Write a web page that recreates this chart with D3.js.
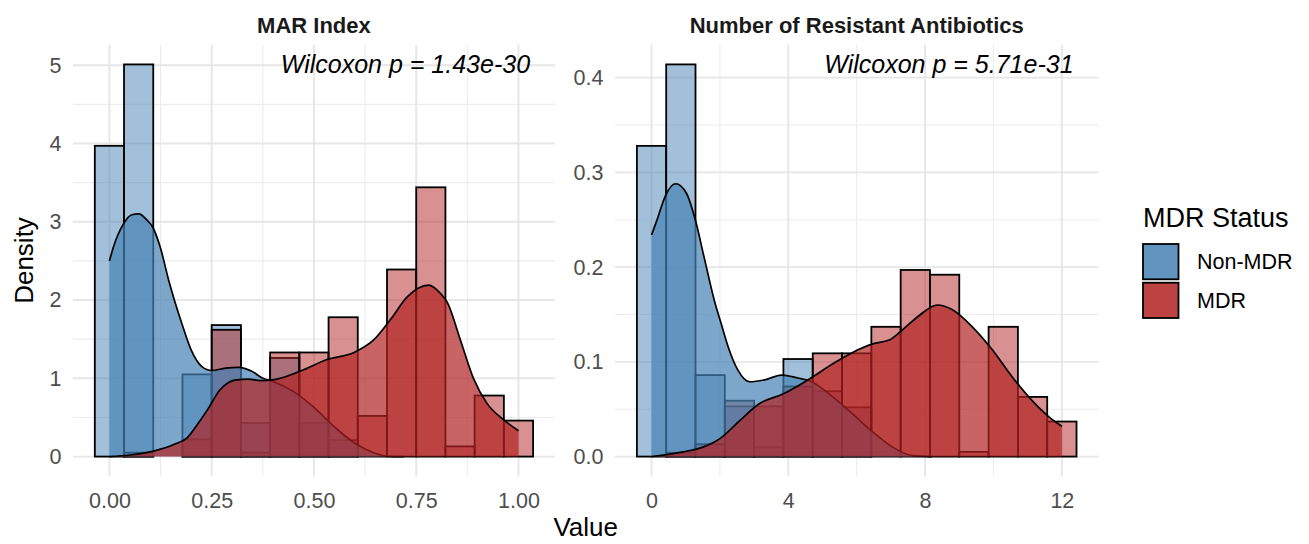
<!DOCTYPE html>
<html>

<head>
    <meta charset="utf-8">
    <style>
        body {
            margin: 0;
            background: #fff;
        }

        svg {
            display: block;
            font-family: "Liberation Sans", Arial, sans-serif;
        }

        .axis .domain,
        .axis .tick line {
            display: none;
        }

        .axis .tick text {
            font-size: 21.5px;
            fill: #4d4d4d;
            font-family: "Liberation Sans", Arial, sans-serif;
        }
    </style>
</head>

<body>
    <svg width="1309" height="544"></svg>

    <script src="https://d3js.org/d3.v7.min.js"></script>

    <script>
        // groups + fill colours
        let groups = ["Non-MDR", "MDR"]
        let groupColors = ["#4682b4", "#b22222"]

        // MAR index histogram, 15 bins centred on 0 .. 1 (density)
        let marNonMdr = [3.97, 5.01, 0, 1.05, 1.68, 0.43, 1.26, 0.43, 0.21, 0, 0, 0, 0, 0, 0]
        let marMdr = [0, 0.05, 0, 0.22, 1.62, 0.05, 1.33, 1.33, 1.78, 0.52, 2.39, 3.44, 0.13, 0.78, 0.46]

        // resistant antibiotics histogram, 15 bins centred on 0 .. 12 (density)
        let resNonMdr = [0.328, 0.414, 0.086, 0.053, 0.010, 0.103, 0.069, 0.052, 0, 0, 0, 0, 0, 0, 0]
        let resMdr = [0, 0.004, 0.013, 0.059, 0.053, 0.074, 0.109, 0.109, 0.137, 0.197, 0.192, 0.005, 0.137, 0.063, 0.037]

        // density curves [value, density]
        let marDensNonMdr = [[0, 2.5], [0.01, 2.68], [0.034, 2.97], [0.055, 3.09], [0.072, 3.1], [0.092, 3.02], [0.106, 2.93],
            [0.124, 2.68], [0.145, 2.25], [0.177, 1.7], [0.2, 1.36], [0.226, 1.15], [0.25, 1.1], [0.284, 1.13],
            [0.316, 1.14], [0.348, 1.09], [0.375, 1.0], [0.4, 0.96], [0.45, 0.83], [0.5, 0.63], [0.55, 0.38],
            [0.6, 0.17], [0.646, 0.05], [0.695, 0.0], [0.72, 0]]
        let marDensMdr = [[0, 0], [0.05, 0.02], [0.108, 0.07], [0.16, 0.16], [0.19, 0.24], [0.215, 0.41], [0.24, 0.6],
            [0.27, 0.85], [0.31, 0.98], [0.34, 0.99], [0.37, 0.97], [0.4, 0.98], [0.466, 1.09], [0.532, 1.24],
            [0.598, 1.33], [0.646, 1.49], [0.687, 1.75], [0.728, 2.04], [0.78, 2.19], [0.81, 2.08], [0.826, 1.97],
            [0.858, 1.49], [0.89, 1.0], [0.923, 0.68], [0.964, 0.47], [1.0, 0.33]]

        let resDensNonMdr = [[0, 0.234], [0.19, 0.253], [0.39, 0.274], [0.705, 0.288], [1.02, 0.278], [1.28, 0.25],
            [1.54, 0.21], [1.85, 0.163], [2.04, 0.14], [2.24, 0.116], [2.53, 0.091], [2.87, 0.079], [3.31, 0.081],
            [3.8, 0.086], [4.28, 0.083], [4.62, 0.08], [5.3, 0.063], [5.88, 0.045], [6.47, 0.026], [7.05, 0.01],
            [7.63, 0.001], [8.2, 0]]
        let resDensMdr = [[0, 0], [0.93, 0.005], [1.5, 0.01], [2.0, 0.019], [2.58, 0.038], [3.16, 0.056], [3.84, 0.066],
            [4.62, 0.082], [5.3, 0.098], [5.88, 0.11], [6.47, 0.119], [6.95, 0.123], [7.25, 0.131], [7.83, 0.149],
            [8.36, 0.16], [8.8, 0.155], [9.38, 0.137], [9.96, 0.113], [10.55, 0.084], [11.13, 0.059], [11.62, 0.042],
            [12.0, 0.032]]

        // ticks
        let marXTicks = [0, 0.25, 0.5, 0.75, 1]
        let marYTicks = [0, 1, 2, 3, 4, 5]
        let resXTicks = [0, 4, 8, 12]
        let resYTicks = [0, 0.1, 0.2, 0.3, 0.4]

        let panelTitles = ["MAR Index", "Number of Resistant Antibiotics"]
        let pValues = ["1.43e-30", "5.71e-31"]

        let svg = d3.select("svg")
        let panelTop = 44.8, panelBottom = 476.2

        function drawPanel(opt) {
            let n = opt.nonMdr.length
            let bw = (opt.range[1] - opt.range[0]) / (n - 1)
            let lo = opt.range[0] - bw / 2
            let hi = opt.range[1] + bw / 2
            let padX = (hi - lo) * 0.05

            let x = d3.scaleLinear()
                .domain([lo - padX, hi + padX])
                .range([opt.left, opt.right])

            let ymax = d3.max([...opt.nonMdr, ...opt.mdr, ...opt.densNon.map(d => d[1]), ...opt.densMdr.map(d => d[1])])
            let y = d3.scaleLinear()
                .domain([-ymax * 0.05, ymax * 1.05])
                .range([panelBottom, panelTop])

            let g = svg.append("g")

            // grid (minor then major)
            let mid = t => d3.pairs(t).map(p => (p[0] + p[1]) / 2)
            let grid = g.append("g").attr("class", "grid")
            grid.selectAll(".vminor").data(mid(opt.xTicks)).join("line")
                .attr("x1", d => x(d)).attr("x2", d => x(d)).attr("y1", panelTop).attr("y2", panelBottom)
                .attr("stroke", "#ececec").attr("stroke-width", 1.1)
            grid.selectAll(".hminor").data(mid(opt.yTicks)).join("line")
                .attr("y1", d => y(d)).attr("y2", d => y(d)).attr("x1", opt.left).attr("x2", opt.right)
                .attr("stroke", "#ececec").attr("stroke-width", 1.1)
            grid.selectAll(".vmajor").data(opt.xTicks).join("line")
                .attr("x1", d => x(d)).attr("x2", d => x(d)).attr("y1", panelTop).attr("y2", panelBottom)
                .attr("stroke", "#e6e6e6").attr("stroke-width", 1.9)
            grid.selectAll(".hmajor").data(opt.yTicks).join("line")
                .attr("y1", d => y(d)).attr("y2", d => y(d)).attr("x1", opt.left).attr("x2", opt.right)
                .attr("stroke", "#e6e6e6").attr("stroke-width", 1.9)

            // histograms, non-MDR first then MDR on top
            let series = [opt.nonMdr, opt.mdr]
            series.forEach((vals, gi) => {
                g.append("g")
                    .selectAll("rect")
                    .data(vals.map((v, i) => ({ x0: lo + i * bw, x1: lo + (i + 1) * bw, v: v })))
                    .join("rect")
                    .attr("x", d => x(d.x0))
                    .attr("width", d => x(d.x1) - x(d.x0))
                    .attr("y", d => y(d.v))
                    .attr("height", d => y(0) - y(d.v))
                    .attr("fill", groupColors[gi])
                    .attr("fill-opacity", 0.5)
                    .attr("stroke", "#000")
                    .attr("stroke-width", 1.8)
            })

            // densities
            let dens = [opt.densNon, opt.densMdr]
            let area = d3.area().x(d => x(d[0])).y0(y(0)).y1(d => y(d[1])).curve(d3.curveMonotoneX)
            let line = d3.line().x(d => x(d[0])).y(d => y(d[1])).curve(d3.curveMonotoneX)
            dens.forEach((pts, gi) => {
                g.append("path").datum(pts)
                    .attr("d", area)
                    .attr("fill", groupColors[gi])
                    .attr("fill-opacity", 0.7)
                g.append("path").datum(pts)
                    .attr("d", line)
                    .attr("fill", "none")
                    .attr("stroke", "#000")
                    .attr("stroke-width", 1.7)
            })

            // axes
            g.append("g")
                .attr("class", "axis")
                .attr("transform", `translate(0,${panelBottom})`)
                .call(d3.axisBottom(x).tickValues(opt.xTicks).tickSize(0).tickPadding(17).tickFormat(opt.xFormat))
            g.append("g")
                .attr("class", "axis")
                .attr("transform", `translate(${opt.left},0)`)
                .call(d3.axisLeft(y).tickValues(opt.yTicks).tickSize(0).tickPadding(11.5).tickFormat(opt.yFormat))

            // strip title
            g.append("text")
                .attr("x", (opt.left + opt.right) / 2)
                .attr("y", 33)
                .attr("text-anchor", "middle")
                .attr("font-weight", "bold")
                .attr("font-size", "22px")
                .attr("fill", "#1a1a1a")
                .text(opt.title)

            // p value
            let pt = g.append("text")
                .attr("y", 73)
                .attr("text-anchor", "end")
                .attr("font-style", "italic")
                .attr("font-size", "25px")
                .attr("fill", "#000")
                .text("Wilcoxon p = " + opt.p)
            let len = pt.node().getComputedTextLength()
            pt.attr("x", opt.right - 0.1 * len)
        }

        drawPanel({
            left: 72.9, right: 555, range: [0, 1],
            nonMdr: marNonMdr, mdr: marMdr, densNon: marDensNonMdr, densMdr: marDensMdr,
            xTicks: marXTicks, yTicks: marYTicks,
            xFormat: d3.format(".2f"), yFormat: d3.format("d"),
            title: panelTitles[0], p: pValues[0]
        })

        drawPanel({
            left: 614.9, right: 1098.5, range: [0, 12],
            nonMdr: resNonMdr, mdr: resMdr, densNon: resDensNonMdr, densMdr: resDensMdr,
            xTicks: resXTicks, yTicks: resYTicks,
            xFormat: d3.format("d"), yFormat: d3.format(".1f"),
            title: panelTitles[1], p: pValues[1]
        })

        // axis titles
        svg.append("text")
            .attr("x", (72.9 + 1098.5) / 2)
            .attr("y", 536)
            .attr("text-anchor", "middle")
            .attr("font-size", "26px")
            .text("Value")

        svg.append("text")
            .attr("transform", `translate(33,${(panelTop + panelBottom) / 2}) rotate(-90)`)
            .attr("text-anchor", "middle")
            .attr("font-size", "26px")
            .text("Density")

        // legend
        let legend = svg.append("g").attr("transform", "translate(1143,0)")
        legend.append("text")
            .attr("x", 0).attr("y", 227)
            .attr("font-size", "27px")
            .text("MDR Status")

        groups.forEach((name, i) => {
            let ky = 244 + i * 38.7
            legend.append("rect")
                .attr("x", 0).attr("y", ky).attr("width", 35.5).attr("height", 35.3)
                .attr("fill", groupColors[i]).attr("fill-opacity", 0.5)
            legend.append("rect")
                .attr("x", 0).attr("y", ky).attr("width", 35.5).attr("height", 35.3)
                .attr("fill", groupColors[i]).attr("fill-opacity", 0.7)
                .attr("stroke", "#000").attr("stroke-width", 1.8)
            legend.append("text")
                .attr("x", 54).attr("y", ky + 17.6)
                .attr("dy", "0.35em")
                .attr("font-size", "21.5px")
                .attr("fill", "#000")
                .text(name)
        })
    </script>
</body>

</html>
